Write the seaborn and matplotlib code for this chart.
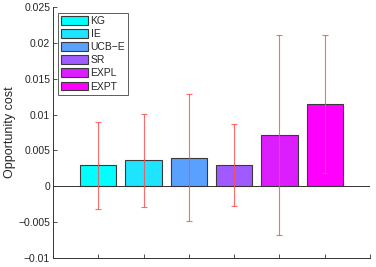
import matplotlib
matplotlib.use("Agg")
import matplotlib.pyplot as plt
import seaborn as sns
import pandas as pd
from matplotlib.ticker import FixedLocator

methods = ["KG", "IE", "UCB\u2212E", "SR", "EXPL", "EXPT"]
values = [0.0029, 0.0036, 0.0040, 0.0030, 0.00715, 0.0115]
errors = [0.0061, 0.0065, 0.0088, 0.0057, 0.0139, 0.0096]
colors = ["#00ffff", "#1ee4ff", "#5aa0ff", "#a05aff", "#dc1eff", "#ff00ff"]
yticks = [-0.01, -0.005, 0, 0.005, 0.01, 0.015, 0.02, 0.025]
ytick_labels = ["\u22120.01", "\u22120.005", "0", "0.005", "0.01", "0.015", "0.02", "0.025"]

sns.set_style("white")
plt.rcParams["font.family"] = ["Liberation Sans", "DejaVu Sans"]

df = pd.DataFrame({"method": methods, "value": values})

fig = plt.figure(figsize=(3.76, 2.67), dpi=100)
ax = fig.add_axes([0.141, 0.034, 0.843, 0.94])

sns.barplot(data=df, x="method", y="value", hue="method", palette=colors,
            order=methods, hue_order=methods, dodge=False, width=0.8,
            saturation=1, edgecolor="#3a3a3a", linewidth=0.8, legend=True, ax=ax)

ax.errorbar(range(len(methods)), values, yerr=errors, fmt="none",
            ecolor="#ff5050", elinewidth=0.8, capsize=2.5, capthick=0.8, alpha=0.85, zorder=5)

ax.axhline(0, color="#333333", lw=0.7, zorder=1)

ax.set_xlim(-1, 6)
ax.set_ylim(-0.01, 0.025)
ax.set_xticks(range(-1, 7))
ax.set_xticklabels([""] * 8)
ax.yaxis.set_major_locator(FixedLocator(yticks))
ax.set_yticklabels(ytick_labels)
ax.set_xlabel("")
ax.set_ylabel("Opportunity cost", fontsize=9, labelpad=2)

for s in ["top", "right"]:
    ax.spines[s].set_visible(False)
for s in ["left", "bottom"]:
    ax.spines[s].set_color("#333333")
    ax.spines[s].set_linewidth(0.7)

ax.tick_params(axis="both", direction="in", length=3, width=0.6, color="#333333",
               labelsize=7.5, pad=2, bottom=True, left=True)

leg = ax.legend(loc="upper left", bbox_to_anchor=(0.01, 0.985), fontsize=7.5,
                frameon=True, fancybox=False, edgecolor="#333333",
                handlelength=2.6, handleheight=0.9, handletextpad=0.2,
                labelspacing=0.3, borderpad=0.3, borderaxespad=0.2)
leg.get_frame().set_linewidth(0.7)

fig.savefig("out.png", dpi=100)
